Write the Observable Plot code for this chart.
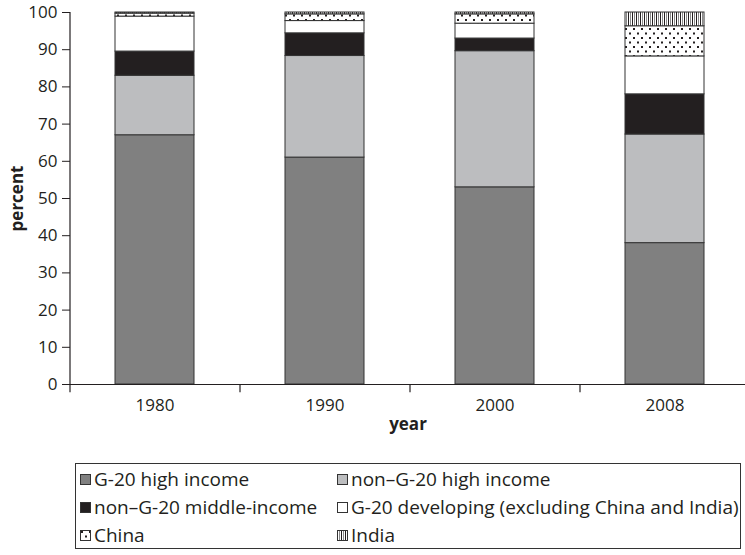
<!DOCTYPE html>
<html><head><meta charset="utf-8">
<script src="https://cdn.jsdelivr.net/npm/d3@7"></script>
<script src="https://cdn.jsdelivr.net/npm/@observablehq/plot@0.6"></script>
<style>
body{margin:0;background:#fff;font-family:"Open Sans",sans-serif;color:#231f20;}
#chart{position:absolute;left:0;top:0;}
#legend{position:absolute;left:75px;top:463px;width:666px;height:86px;border:1px solid #333;box-sizing:border-box;
  display:grid;grid-template-columns:257px auto;grid-auto-rows:28px;padding:1px 0 0 4px;font-size:19px;}
.item{display:flex;align-items:center;white-space:nowrap;}
.item svg{margin-right:3px;flex:none;}
</style></head>
<body>
<div id="chart"></div>
<div id="legend"></div>
<script>
const years = ["1980", "1990", "2000", "2008"];
const seriesNames = ["G-20 high income", "non–G-20 high income", "non–G-20 middle-income",
  "G-20 developing (excluding China and India)", "China", "India"];
const g20High = [67, 61, 53, 38];
const nonG20High = [16, 27.3, 36.6, 29.2];
const nonG20Middle = [6.5, 6.1, 3.4, 10.8];
const g20Developing = [9.4, 3.3, 4.0, 10.2];
const china = [0.8, 1.8, 2.5, 8.1];
const india = [0.3, 0.5, 0.5, 3.7];
const yTicks = [0, 10, 20, 30, 40, 50, 60, 70, 80, 90, 100];
const legendOrder = [0, 1, 2, 3, 4, 5];

const fills = ["#808080", "#bcbdbf", "#231f20", "#ffffff", "url(#pat-china)", "url(#pat-india)"];
const seriesValues = [g20High, nonG20High, nonG20Middle, g20Developing, china, india];
const rows = [];
years.forEach((yr, i) => seriesNames.forEach((s, j) => rows.push({year: yr, series: s, value: seriesValues[j][i]})));

const step = 170;
const chart = Plot.plot({
  width: 745, height: 440,
  marginTop: 12, marginBottom: 56, marginLeft: 70, marginRight: 0,
  style: {fontFamily: "Open Sans", fontSize: "17px", color: "#231f20", background: "white"},
  x: {domain: years, range: [70, 750], paddingInner: 0.535, paddingOuter: 0.2675,
      tickSize: 0, tickPadding: 14, label: "year", labelAnchor: "center", labelOffset: 45, labelArrow: "none"},
  y: {domain: [0, 100], ticks: yTicks, tickSize: 8, tickPadding: 5, label: "percent", labelAnchor: "center", labelOffset: 60, labelArrow: "none"},
  color: {domain: seriesNames, range: fills},
  marks: [
    Plot.barY(rows, {x: "year", y: "value", fill: "series", stroke: "#333", strokeWidth: 1}),
    Plot.ruleY([0], {stroke: "#231f20", strokeWidth: 1.2}),
    Plot.ruleX(years, {x: d => d, dx: -step / 2, y1: -2.2, y2: d => d === years[0] ? 100 : 0, stroke: "#231f20", strokeWidth: 1.2})
  ]
});

const defs = `<defs>
<pattern id="pat-china" patternUnits="userSpaceOnUse" width="8" height="9">
 <rect width="8" height="9" fill="#fff"/>
 <rect x="1" y="1" width="2" height="2" fill="#231f20"/>
 <rect x="5" y="5.5" width="2" height="2" fill="#231f20"/>
</pattern>
<pattern id="pat-india" patternUnits="userSpaceOnUse" width="4" height="4">
 <rect width="4" height="4" fill="#fff"/>
 <rect x="0" width="1" height="4" fill="#231f20"/>
 <rect x="2" width="1" height="4" fill="#8a8a8a"/>
</pattern></defs>`;
chart.insertAdjacentHTML("afterbegin", defs);
d3.select(chart).selectAll("text").each(function() {
  const t = this.textContent.trim();
  if (t.startsWith("percent") || t.startsWith("year")) d3.select(this).attr("font-weight", "bold").style("font-size", "17px");
});
document.getElementById("chart").appendChild(chart);

const legend = document.getElementById("legend");
legendOrder.forEach(j => {
  const div = document.createElement("div");
  div.className = "item";
  div.innerHTML = `<svg width="11" height="11"><rect x="0.5" y="0.5" width="10" height="10" fill="${fills[j]}" stroke="#333" stroke-width="1"/></svg><span>${seriesNames[j]}</span>`;
  legend.appendChild(div);
});
</script>
</body></html>
